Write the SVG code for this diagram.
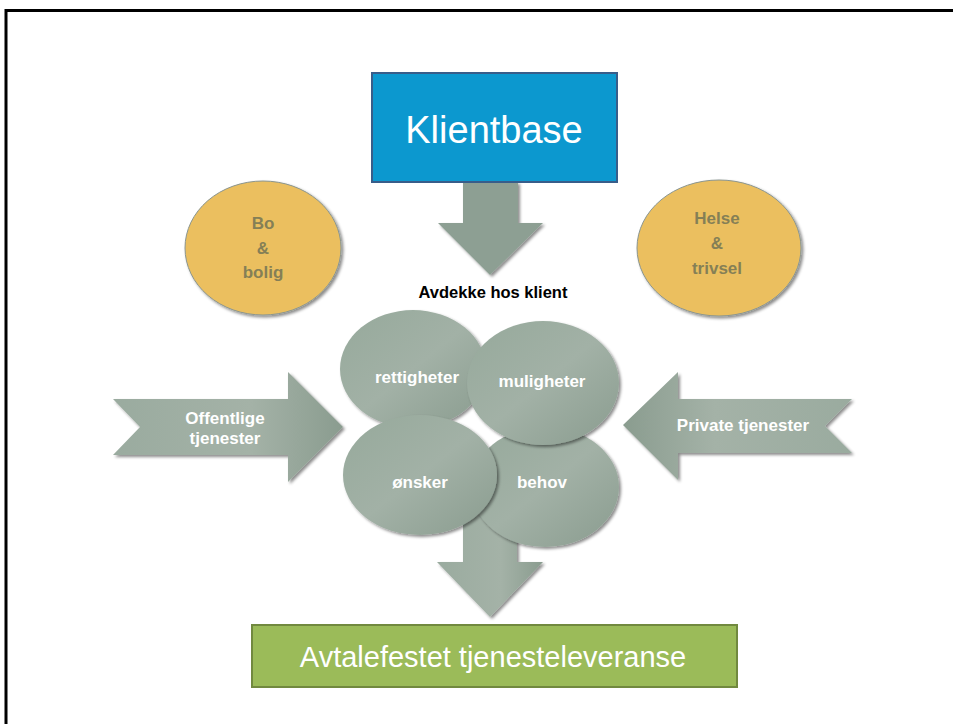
<svg xmlns="http://www.w3.org/2000/svg" width="953" height="724" viewBox="0 0 953 724">
<defs>
<linearGradient id="gg" x1="0" y1="0" x2="1" y2="1">
<stop offset="0" stop-color="#96a99b"/>
<stop offset="0.5" stop-color="#a2b1a6"/>
<stop offset="1" stop-color="#8a9c8f"/>
</linearGradient>
<linearGradient id="ga" x1="0" y1="0" x2="1" y2="0">
<stop offset="0" stop-color="#9aab9f"/>
<stop offset="0.6" stop-color="#a4b2a7"/>
<stop offset="1" stop-color="#8a9c8f"/>
</linearGradient>
<linearGradient id="gar" x1="1" y1="0" x2="0" y2="0">
<stop offset="0" stop-color="#9aab9f"/>
<stop offset="0.6" stop-color="#a4b2a7"/>
<stop offset="1" stop-color="#8a9c8f"/>
</linearGradient>
<filter id="sh" x="-20%" y="-20%" width="140%" height="140%">
<feDropShadow dx="2" dy="2" stdDeviation="1.5" flood-color="#000" flood-opacity="0.45"/>
</filter>
</defs>
<style>
.lbl{font-family:"Liberation Sans",Arial,sans-serif;font-weight:bold;font-size:17px;text-anchor:middle;dominant-baseline:central}
.w{fill:#ffffff}
.y{fill:#857f56}
.yel{fill:#ebbf5e;stroke:#8a9590;stroke-width:1}
.circ{fill:url(#gg)}
.big{font-family:"Liberation Sans",Arial,sans-serif;fill:#ffffff;text-anchor:middle}
</style>
<rect width="953" height="724" fill="#ffffff"/>
<path d="M6,724 V10.5 H953" fill="none" stroke="#000" stroke-width="3"/>

<g id="connectors">
<path id="arrow-top" d="M463,182 H518 V223 H543 L490,275 L438,223 H463 Z" fill="#8d9f93" filter="url(#sh)"/>
<path id="arrow-bottom" d="M463,500 H517 V562 H543 L490,617 L437,562 H463 Z" fill="url(#ga)" filter="url(#sh)"/>
</g>

<g id="klientbase">
<rect x="372" y="73" width="245" height="109" fill="#0c98cf" stroke="#385d8a" stroke-width="2"/>
<text class="big" x="494" y="143" font-size="38">Klientbase</text>
</g>

<g id="bo-bolig">
<ellipse class="yel" cx="263" cy="248" rx="78" ry="67" filter="url(#sh)"/>
<text class="lbl y" x="263" y="223">Bo</text>
<text class="lbl y" x="263" y="248">&amp;</text>
<text class="lbl y" x="263" y="272">bolig</text>
</g>

<g id="helse-trivsel">
<ellipse class="yel" cx="719" cy="248" rx="82" ry="68" filter="url(#sh)"/>
<text class="lbl y" x="717" y="218">Helse</text>
<text class="lbl y" x="717" y="243">&amp;</text>
<text class="lbl y" x="717" y="268">trivsel</text>
</g>

<g id="avdekke">
<text x="493" y="292" font-family="Liberation Sans, Arial, sans-serif" font-weight="bold" font-size="16.5" text-anchor="middle" dominant-baseline="central" fill="#000">Avdekke hos klient</text>
</g>

<g id="offentlige">
<path d="M113,399 H288 V372 L343,427 L288,482 V455 H113 L140,427 Z" fill="url(#ga)" filter="url(#sh)"/>
<text class="lbl w" x="225" y="418">Offentlige</text>
<text class="lbl w" x="225" y="438">tjenester</text>
</g>

<g id="private">
<path d="M852,399 H678 V372 L623,425 L678,480 V453 H852 L825,426 Z" fill="url(#gar)" filter="url(#sh)"/>
<text class="lbl w" x="743" y="425">Private tjenester</text>
</g>

<g id="behov">
<ellipse class="circ" cx="545" cy="487" rx="74" ry="60" filter="url(#sh)"/>
<text class="lbl w" x="542" y="482">behov</text>
</g>

<g id="rettigheter">
<ellipse class="circ" cx="413" cy="369" rx="73" ry="59" filter="url(#sh)"/>
<text class="lbl w" x="417" y="377">rettigheter</text>
</g>

<g id="muligheter">
<ellipse class="circ" cx="543" cy="383" rx="76" ry="62" filter="url(#sh)"/>
<text class="lbl w" x="542" y="381">muligheter</text>
</g>

<g id="onsker">
<ellipse class="circ" cx="420" cy="475" rx="77" ry="60" filter="url(#sh)"/>
<text class="lbl w" x="420" y="482">ønsker</text>
</g>

<g id="avtalefestet">
<rect x="252" y="625" width="485" height="62" fill="#9bbb59" stroke="#71893f" stroke-width="2"/>
<text class="big" x="493" y="667" font-size="29">Avtalefestet tjenesteleveranse</text>
</g>
</svg>
